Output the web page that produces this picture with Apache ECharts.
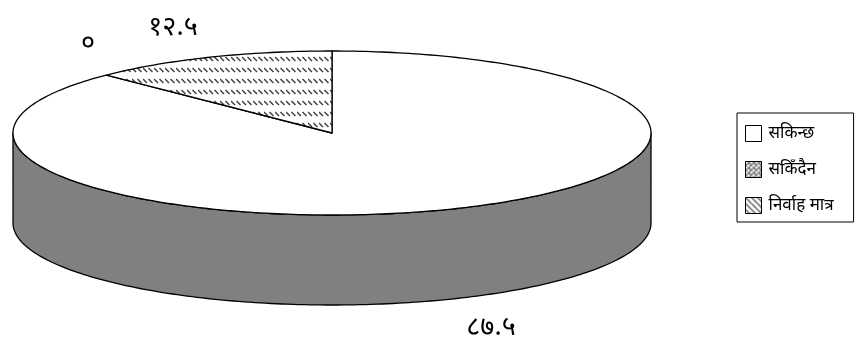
<!DOCTYPE html>
<html><head><meta charset="utf-8">
<style>html,body{margin:0;padding:0;background:#fff}#c{width:862px;height:337px}</style>
<script src="https://cdn.jsdelivr.net/npm/echarts@6/dist/echarts.min.js"></script>
</head><body><div id="c"></div>
<script>
const categories = ['सकिन्छ', 'सकिँदैन', 'निर्वाह मात्र'];
const values = [87.5, 0, 12.5];
const valueLabels = ['८७.५', '०', '१२.५'];

const FONT = '"Noto Sans", "DejaVu Sans", "Liberation Serif", serif';
const CX = 332, CY = 133, RX = 319, RY = 82, DEPTH = 90;
const labelPos = [[491, 327], [88, 43], [173, 27]];

function tile(draw, w, h) {
  const c = document.createElement('canvas');
  c.width = w; c.height = h;
  const g = c.getContext('2d');
  g.fillStyle = '#fff'; g.fillRect(0, 0, w, h);
  draw(g);
  return { image: c, repeat: 'repeat' };
}
const hatch = tile(g => {
  g.strokeStyle = '#3c3c3c'; g.lineWidth = 1.4;
  g.beginPath();
  g.moveTo(0, 2); g.lineTo(4, 6);
  g.moveTo(5.5, 2); g.lineTo(9.5, 6);
  g.stroke();
}, 11, 11);
const legendHatch = tile(g => {
  g.strokeStyle = '#333'; g.lineWidth = 1.2;
  g.beginPath();
  for (let i = -6; i < 12; i += 6) { g.moveTo(i, 0); g.lineTo(i + 6, 6); }
  g.stroke();
}, 6, 6);
const dots = tile(g => {
  g.fillStyle = '#8a8a8a'; g.fillRect(0, 0, 5, 5);
  g.fillStyle = '#fff';
  g.fillRect(0, 0, 2, 2); g.fillRect(2, 3, 2, 2);
}, 5, 5);
const fills = ['#ffffff', dots, hatch];
const legendFills = ['#ffffff', dots, legendHatch];

const total = values.reduce((a, b) => a + b, 0);
const pt = (deg, dy) => {
  const r = deg * Math.PI / 180;
  return [CX + RX * Math.sin(r), CY - RY * Math.cos(r) + (dy || 0)];
};
const arc = (a, b, dy) => {
  const out = [], n = Math.max(2, Math.ceil(Math.abs(b - a)));
  for (let i = 0; i <= n; i++) out.push(pt(a + (b - a) * i / n, dy));
  return out;
};
const stroke = { stroke: '#000', lineWidth: 1.3, lineJoin: 'round' };

function renderer(idx) {
  return function (params, api) {
    const v = api.value(0);
    const start = values.slice(0, idx).reduce((a, b) => a + b, 0) / total * 360;
    const end = start + v / total * 360;
    const children = [];
    const wa = Math.max(start, 90), wb = Math.min(end, 270);
    if (wb > wa) {
      children.push({ type: 'polygon', shape: { points: arc(wa, wb, 0).concat(arc(wb, wa, DEPTH)) }, style: { fill: '#808080', ...stroke } });
    }
    if (v > 0) {
      children.push({ type: 'polygon', shape: { points: [[CX, CY]].concat(arc(start, end, 0)) }, style: { fill: fills[idx], ...stroke } });
    }
    children.push({ type: 'text', style: { x: labelPos[idx][0], y: labelPos[idx][1], text: valueLabels[idx], font: '27px ' + FONT, fill: '#000', textAlign: 'center', textVerticalAlign: 'middle' } });
    return { type: 'group', children };
  };
}

const chart = echarts.init(document.getElementById('c'), null, { renderer: 'canvas' });
chart.setOption({
  animation: false,
  legend: {
    left: 737, top: 113, orient: 'vertical', itemWidth: 16, itemHeight: 16, itemGap: 19,
    padding: [12, 20, 8, 8], borderColor: '#000', borderWidth: 1, backgroundColor: '#fff',
    textStyle: { fontFamily: FONT, fontSize: 17, color: '#000', padding: [0, 0, 0, 2] },
    data: categories.map((name, i) => ({ name, icon: 'rect', itemStyle: { color: legendFills[i], borderColor: '#000', borderWidth: 1 } }))
  },
  series: categories.map((name, i) => ({
    type: 'custom', name, coordinateSystem: 'none', silent: true,
    renderItem: renderer(i), data: [[values[i]]]
  }))
});
</script></body></html>
